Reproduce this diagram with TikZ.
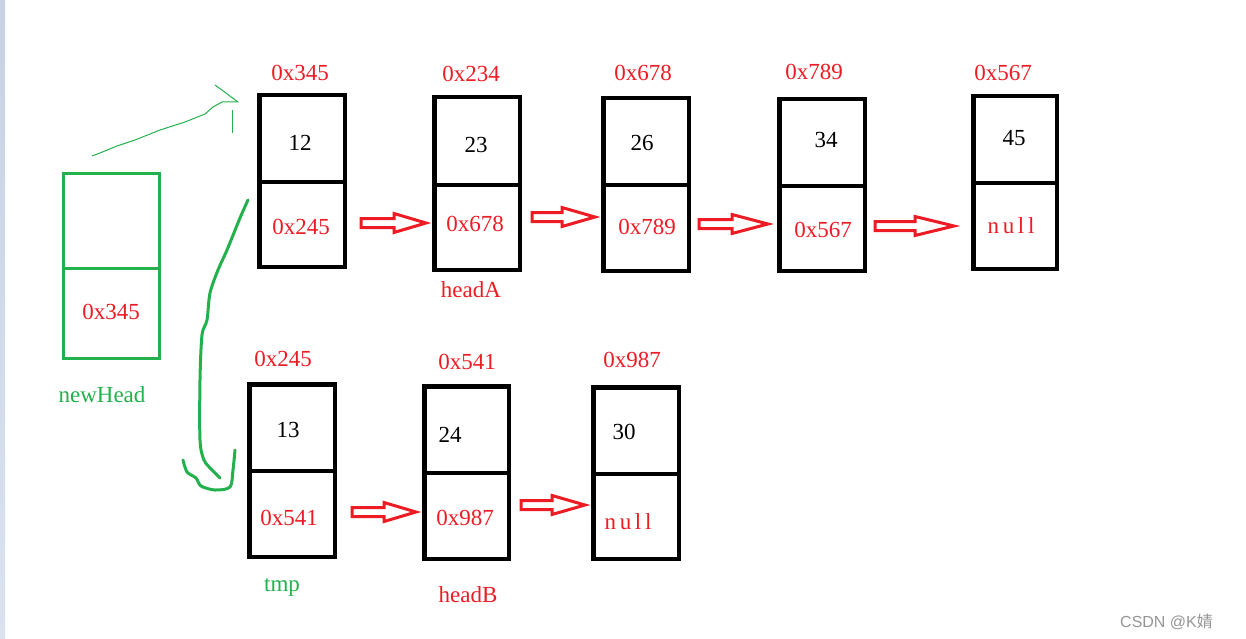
\documentclass[tikz,border=0pt]{standalone}
\usepackage{fontspec}
\setmainfont{Liberation Serif}
\newfontfamily\wmfont{Liberation Sans}
\newfontfamily\cjkfont{Noto Sans CJK SC}
\newfontfamily\spacedfont[LetterSpace=16]{Liberation Serif}
\usetikzlibrary{fit,calc}
\definecolor{pred}{RGB}{237,28,36}
\definecolor{pgreen}{RGB}{34,177,76}
\definecolor{wmgray}{RGB}{150,150,150}
\definecolor{stripA}{RGB}{200,210,228}
\definecolor{stripB}{RGB}{218,226,240}
\tikzset{
  blackcell/.style={draw=black, line width=4.5pt, inner sep=0pt, rectangle},
  greencell/.style={draw=pgreen, line width=3pt, inner sep=0pt, rectangle},
  addr/.style={text=pred, inner sep=0pt, anchor=base, font=\fontsize{23}{27}\selectfont},
  nulltext/.style={text=pred, inner sep=0pt, anchor=base, font=\spacedfont\fontsize{23}{27}\selectfont},
  val/.style={text=black, inner sep=0pt, anchor=base, font=\fontsize{23}{27}\selectfont},
  gname/.style={text=pgreen, inner sep=0pt, anchor=base, font=\fontsize{23}{27}\selectfont},
  hollowarrow/.style={draw=pred, line width=3pt, line join=miter, fill=white},
  thingreen/.style={draw=pgreen, line width=1pt},
  thickgreen/.style={draw=pgreen, line width=3pt, line cap=round, line join=round},
}
% #1 name, #2 left, #3 top, #4 divider, #5 right, #6 bottom, #7 style, #8 inset
\newcommand{\lnode}[8]{%
  \node[#7, fit={({#2+#8},{#3+#8}) ({#5-#8},{#4})}] (#1t) {};
  \node[#7, fit={({#2+#8},{#4}) ({#5-#8},{#6-#8})}] (#1b) {};
}
% #1 name, #2 x start, #3 x end, #4 y, #5 head length
\newcommand{\harrow}[5]{%
  \coordinate (#1s) at (#2,#4);
  \coordinate (#1e) at (#3,#4);
  \draw[hollowarrow] ($(#1s)+(0,-4.5)$) -- ($(#1e)+(-#5,-4.5)$) -- ($(#1e)+(-#5,-9.5)$) -- (#1e)
     -- ($(#1e)+(-#5,9.5)$) -- ($(#1e)+(-#5,4.5)$) -- ($(#1s)+(0,4.5)$) -- cycle;
}
\begin{document}
\begin{tikzpicture}[x=1pt,y=-1pt]
\useasboundingbox (0,0) rectangle (1246,639);
\fill[white] (0,0) rectangle (1246,639);
\shade[top color=stripA, bottom color=stripB] (0,0) rectangle (5,639);

% ---- row 1 ----
\lnode{a1}{257}{93}{182}{347}{269}{blackcell}{2.25}
\lnode{a2}{432}{95}{185}{522}{272}{blackcell}{2.25}
\lnode{a3}{601}{96}{185}{691}{273}{blackcell}{2.25}
\lnode{a4}{777}{97}{186}{867}{273}{blackcell}{2.25}
\lnode{a5}{971}{94}{183}{1059}{271}{blackcell}{2.25}
% ---- row 2 ----
\lnode{b1}{247}{382}{471}{337}{559}{blackcell}{2.25}
\lnode{b2}{422}{384}{473}{511}{561}{blackcell}{2.25}
\lnode{b3}{591}{385}{474}{681}{561}{blackcell}{2.25}
% ---- newHead ----
\lnode{nh}{62}{172}{268}{161}{360}{greencell}{1.5}

% texts row 1
\node[addr] (a1a) at (300,81) {0x345};
\node[val]  (a1v) at (300,151) {12};
\node[addr] (a1n) at (301,234) {0x245};
\node[addr] (a2a) at (471,82) {0x234};
\node[val]  (a2v) at (476,153) {23};
\node[addr] (a2n) at (475,231) {0x678};
\node[addr] (a2l) at (471,297) {headA};
\node[addr] (a3a) at (643,81) {0x678};
\node[val]  (a3v) at (642,151) {26};
\node[addr] (a3n) at (647,234) {0x789};
\node[addr] (a4a) at (814,80) {0x789};
\node[val]  (a4v) at (826,148) {34};
\node[addr] (a4n) at (823,237) {0x567};
\node[addr] (a5a) at (1003,81) {0x567};
\node[val]  (a5v) at (1014,146) {45};
\node[nulltext] (a5n) at (1011,233) {null};
% texts row 2
\node[addr] (b1a) at (283,366) {0x245};
\node[val]  (b1v) at (288,437) {13};
\node[addr] (b1n) at (289,525) {0x541};
\node[gname] (b1l) at (282,591) {tmp};
\node[addr] (b2a) at (467,369) {0x541};
\node[val]  (b2v) at (450,442) {24};
\node[addr] (b2n) at (465,525) {0x987};
\node[addr] (b2l) at (468,602) {headB};
\node[addr] (b3a) at (632,367) {0x987};
\node[val]  (b3v) at (624,439) {30};
\node[nulltext] (b3n) at (628,529) {null};
% newHead texts
\node[addr] (nhn) at (111,319) {0x345};
\node[gname] (nhl) at (102,402) {newHead};

% hollow red arrows
\harrow{r1}{361}{426}{223}{32}
\harrow{r2}{532}{595}{217}{33}
\harrow{r3}{699}{768}{224}{36}
\harrow{r4}{875}{954}{226}{39}
\harrow{r5}{352}{416}{512}{32}
\harrow{r6}{521}{585}{505}{33}

% thin green arrow newHead -> 0x345
\coordinate (g1s) at (92,156);
\coordinate (g1e) at (238,102);
\draw[thingreen] (g1s) -- (100,153) -- (117,146) -- (135,140) -- (160,130) -- (185,122)
  -- (205,114) -- (213,107) -- (222,102) -- (g1e);
\draw[thingreen] (215,85) -- (g1e);
\draw[thingreen] (232,110) -- (232,133);

% thick green arrow 0x245 -> tmp
\coordinate (g2s) at (248,200);
\coordinate (g2e) at (220,478);
\draw[thickgreen] plot[smooth, tension=0.5] coordinates {(g2s) (240,218) (227,250) (218,270)
  (210,293) (207,320) (202,335) (200,380) (200,440) (204,460) (212,470) (g2e)};
\draw[thickgreen] plot[smooth, tension=0.5] coordinates {(183,460) (187,472) (196,478)
  (201,486) (215,490) (230,487) (233,470) (235,450)};

% watermark
\node[text=wmgray, inner sep=0pt, anchor=base west, font=\wmfont\fontsize{16}{18}\selectfont]
  (wm) at (1120,627) {CSDN @K{\cjkfont 婧}};
\end{tikzpicture}
\end{document}
